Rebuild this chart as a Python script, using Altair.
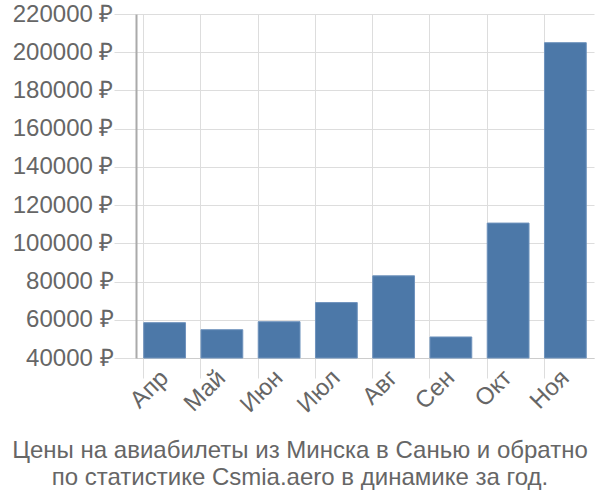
import altair as alt
import pandas as pd

months = ["Апр", "Май", "Июн", "Июл", "Авг", "Сен", "Окт", "Ноя"]
prices = [58500, 54800, 59000, 69000, 83000, 51000, 110600, 205000]
y_ticks = [40000, 60000, 80000, 100000, 120000, 140000, 160000, 180000, 200000, 220000]
title_lines = ["Цены на авиабилеты из Минска в Санью и обратно",
               "по статистике Csmia.aero в динамике за год."]

df = pd.DataFrame({"month": months, "price": prices})

FONT = "Liberation Sans"

chart = alt.Chart(df).mark_bar(color="#4c78a8", stroke="#6f93bd", strokeWidth=1).encode(
    x=alt.X("month:N", sort=months, title=None,
            scale=alt.Scale(paddingInner=0.27, paddingOuter=0.135),
            axis=alt.Axis(labelAngle=-45, labelAlign="right", labelBaseline="middle",
                          labelFontSize=24, labelColor="#666666", labelFont=FONT,
                          labelPadding=-4, labelOffset=0,
                          bandPosition=0, grid=True, gridColor="#dddddd",
                          ticks=True, tickSize=20, tickColor="#dddddd",
                          domain=True, domainColor="#cccccc")),
    y=alt.Y("price:Q", title=None,
            scale=alt.Scale(domain=[40000, 220000], nice=False, zero=False),
            axis=alt.Axis(values=y_ticks, labelExpr="format(datum.value, 'd') + ' ₽'",
                          labelFontSize=24, labelColor="#666666", labelFont=FONT,
                          labelPadding=1, tickSize=22, tickColor="#dddddd",
                          grid=True, gridColor="#dddddd",
                          domain=True, domainColor="#aaaaaa", domainWidth=2)),
    y2=alt.datum(40000),
).properties(
    width=458, height=344,
    padding={"left": 136, "top": 14, "right": 6, "bottom": 142},
    autosize=alt.AutoSizeParams(type="none"),
    title=alt.TitleParams(text=title_lines, orient="bottom", anchor="middle",
                          fontSize=24, font=FONT, color="#666666", fontWeight="normal",
                          offset=0, dx=-65, dy=22, lineHeight=27),
).configure_view(stroke=None)

chart.save("out.html", embed_options={"renderer": "svg", "actions": False})
